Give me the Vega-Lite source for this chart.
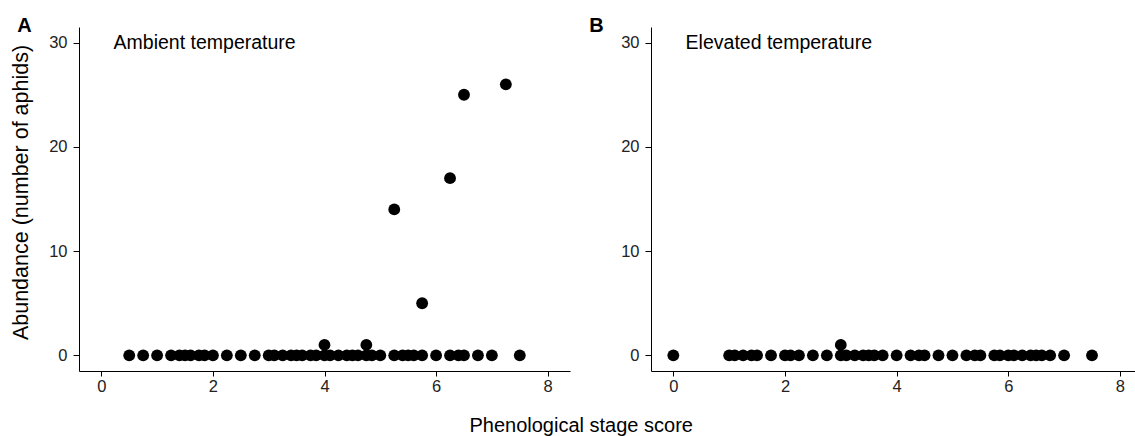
{
  "$schema": "https://vega.github.io/schema/vega-lite/v6.json",
  "background": "white",
  "padding": {"left": 10, "top": 16, "right": 0, "bottom": 0},
  "autosize": {"type": "pad"},
  "config": {
    "font": "Liberation Sans",
    "view": {"stroke": null},
    "axis": {
      "grid": false,
      "domainColor": "black",
      "domainWidth": 1,
      "tickColor": "black",
      "tickWidth": 1,
      "labelColor": "#222222",
      "labelFontSize": 16.5,
      "titleColor": "black",
      "titleFontWeight": "normal"
    },
    "axisX": {"tickSize": 5, "labelPadding": 2, "format": "d"},
    "axisY": {"tickSize": 6, "labelPadding": 6, "format": "d"}
  },
  "datasets": {
    "pts": [
      {"panel": "Ambient", "stage": 0.5, "abundance": 0},
      {"panel": "Ambient", "stage": 0.75, "abundance": 0},
      {"panel": "Ambient", "stage": 1.0, "abundance": 0},
      {"panel": "Ambient", "stage": 1.25, "abundance": 0},
      {"panel": "Ambient", "stage": 1.4, "abundance": 0},
      {"panel": "Ambient", "stage": 1.5, "abundance": 0},
      {"panel": "Ambient", "stage": 1.6, "abundance": 0},
      {"panel": "Ambient", "stage": 1.75, "abundance": 0},
      {"panel": "Ambient", "stage": 1.85, "abundance": 0},
      {"panel": "Ambient", "stage": 2.0, "abundance": 0},
      {"panel": "Ambient", "stage": 2.25, "abundance": 0},
      {"panel": "Ambient", "stage": 2.5, "abundance": 0},
      {"panel": "Ambient", "stage": 2.75, "abundance": 0},
      {"panel": "Ambient", "stage": 3.0, "abundance": 0},
      {"panel": "Ambient", "stage": 3.1, "abundance": 0},
      {"panel": "Ambient", "stage": 3.25, "abundance": 0},
      {"panel": "Ambient", "stage": 3.4, "abundance": 0},
      {"panel": "Ambient", "stage": 3.5, "abundance": 0},
      {"panel": "Ambient", "stage": 3.6, "abundance": 0},
      {"panel": "Ambient", "stage": 3.75, "abundance": 0},
      {"panel": "Ambient", "stage": 3.85, "abundance": 0},
      {"panel": "Ambient", "stage": 4.0, "abundance": 0},
      {"panel": "Ambient", "stage": 4.1, "abundance": 0},
      {"panel": "Ambient", "stage": 4.25, "abundance": 0},
      {"panel": "Ambient", "stage": 4.4, "abundance": 0},
      {"panel": "Ambient", "stage": 4.5, "abundance": 0},
      {"panel": "Ambient", "stage": 4.6, "abundance": 0},
      {"panel": "Ambient", "stage": 4.75, "abundance": 0},
      {"panel": "Ambient", "stage": 4.85, "abundance": 0},
      {"panel": "Ambient", "stage": 5.0, "abundance": 0},
      {"panel": "Ambient", "stage": 5.25, "abundance": 0},
      {"panel": "Ambient", "stage": 5.4, "abundance": 0},
      {"panel": "Ambient", "stage": 5.5, "abundance": 0},
      {"panel": "Ambient", "stage": 5.6, "abundance": 0},
      {"panel": "Ambient", "stage": 5.75, "abundance": 0},
      {"panel": "Ambient", "stage": 6.0, "abundance": 0},
      {"panel": "Ambient", "stage": 6.25, "abundance": 0},
      {"panel": "Ambient", "stage": 6.4, "abundance": 0},
      {"panel": "Ambient", "stage": 6.5, "abundance": 0},
      {"panel": "Ambient", "stage": 6.75, "abundance": 0},
      {"panel": "Ambient", "stage": 7.0, "abundance": 0},
      {"panel": "Ambient", "stage": 7.5, "abundance": 0},
      {"panel": "Ambient", "stage": 4.0, "abundance": 1},
      {"panel": "Ambient", "stage": 4.75, "abundance": 1},
      {"panel": "Ambient", "stage": 5.25, "abundance": 14},
      {"panel": "Ambient", "stage": 5.75, "abundance": 5},
      {"panel": "Ambient", "stage": 6.25, "abundance": 17},
      {"panel": "Ambient", "stage": 6.5, "abundance": 25},
      {"panel": "Ambient", "stage": 7.25, "abundance": 26},
      {"panel": "Elevated", "stage": 0.0, "abundance": 0},
      {"panel": "Elevated", "stage": 1.0, "abundance": 0},
      {"panel": "Elevated", "stage": 1.1, "abundance": 0},
      {"panel": "Elevated", "stage": 1.25, "abundance": 0},
      {"panel": "Elevated", "stage": 1.4, "abundance": 0},
      {"panel": "Elevated", "stage": 1.5, "abundance": 0},
      {"panel": "Elevated", "stage": 1.75, "abundance": 0},
      {"panel": "Elevated", "stage": 2.0, "abundance": 0},
      {"panel": "Elevated", "stage": 2.1, "abundance": 0},
      {"panel": "Elevated", "stage": 2.25, "abundance": 0},
      {"panel": "Elevated", "stage": 2.5, "abundance": 0},
      {"panel": "Elevated", "stage": 2.75, "abundance": 0},
      {"panel": "Elevated", "stage": 3.0, "abundance": 0},
      {"panel": "Elevated", "stage": 3.1, "abundance": 0},
      {"panel": "Elevated", "stage": 3.25, "abundance": 0},
      {"panel": "Elevated", "stage": 3.4, "abundance": 0},
      {"panel": "Elevated", "stage": 3.5, "abundance": 0},
      {"panel": "Elevated", "stage": 3.6, "abundance": 0},
      {"panel": "Elevated", "stage": 3.75, "abundance": 0},
      {"panel": "Elevated", "stage": 4.0, "abundance": 0},
      {"panel": "Elevated", "stage": 4.25, "abundance": 0},
      {"panel": "Elevated", "stage": 4.4, "abundance": 0},
      {"panel": "Elevated", "stage": 4.5, "abundance": 0},
      {"panel": "Elevated", "stage": 4.75, "abundance": 0},
      {"panel": "Elevated", "stage": 5.0, "abundance": 0},
      {"panel": "Elevated", "stage": 5.25, "abundance": 0},
      {"panel": "Elevated", "stage": 5.4, "abundance": 0},
      {"panel": "Elevated", "stage": 5.5, "abundance": 0},
      {"panel": "Elevated", "stage": 5.75, "abundance": 0},
      {"panel": "Elevated", "stage": 5.85, "abundance": 0},
      {"panel": "Elevated", "stage": 6.0, "abundance": 0},
      {"panel": "Elevated", "stage": 6.1, "abundance": 0},
      {"panel": "Elevated", "stage": 6.25, "abundance": 0},
      {"panel": "Elevated", "stage": 6.4, "abundance": 0},
      {"panel": "Elevated", "stage": 6.5, "abundance": 0},
      {"panel": "Elevated", "stage": 6.6, "abundance": 0},
      {"panel": "Elevated", "stage": 6.75, "abundance": 0},
      {"panel": "Elevated", "stage": 7.0, "abundance": 0},
      {"panel": "Elevated", "stage": 7.5, "abundance": 0},
      {"panel": "Elevated", "stage": 3.0, "abundance": 1}
    ]
  },
  "bounds": "flush",
  "spacing": 81,
  "hconcat": [
    {
      "width": 491,
      "height": 344,
      "title": {"text": "A", "anchor": "start", "frame": "group", "offset": 0, "baseline": "alphabetic", "dx": -61.7, "dy": 25.4, "fontSize": 20, "fontWeight": "bold", "font": "Liberation Sans", "color": "black"},
      "layer": [
        {
          "data": {"name": "pts"},
          "transform": [{"filter": "datum.panel === 'Ambient'"}],
          "mark": {"type": "circle", "size": 140, "color": "black", "opacity": 1},
          "encoding": {
            "x": {"field": "stage", "type": "quantitative", "scale": {"domain": [-0.4, 8.4], "nice": false, "zero": false},
              "axis": {"values": [0, 2, 4, 6, 8], "title": "Phenological stage score", "titleX": 501.7, "titleY": 60.6, "titleBaseline": "alphabetic", "titleAlign": "center", "titleFontSize": 20}},
            "y": {"field": "abundance", "type": "quantitative", "scale": {"domain": [-1.5, 31.5], "nice": false, "zero": false},
              "axis": {"values": [0, 10, 20, 30], "title": "Abundance (number of aphids)", "titleX": -51.1, "titleY": 165, "titleBaseline": "alphabetic", "titleAlign": "center", "titleAngle": 270, "titleFontSize": 21.5}}
          }
        },
        {
          "data": {"values": [{"label": "Ambient temperature"}]},
          "mark": {"type": "text", "align": "left", "baseline": "alphabetic", "fontSize": 19.5, "color": "black"},
          "encoding": {
            "x": {"datum": 0.22},
            "y": {"datum": 29.4},
            "text": {"field": "label"}
          }
        }
      ]
    },
    {
      "width": 484,
      "height": 344,
      "title": {"text": "B", "anchor": "start", "frame": "group", "offset": 0, "baseline": "alphabetic", "dx": -61.7, "dy": 25.4, "fontSize": 20, "fontWeight": "bold", "font": "Liberation Sans", "color": "black"},
      "layer": [
        {
          "data": {"name": "pts"},
          "transform": [{"filter": "datum.panel === 'Elevated'"}],
          "mark": {"type": "circle", "size": 140, "color": "black", "opacity": 1},
          "encoding": {
            "x": {"field": "stage", "type": "quantitative", "scale": {"domain": [-0.4, 8.27], "nice": false, "zero": false},
              "axis": {"values": [0, 2, 4, 6, 8], "title": null}},
            "y": {"field": "abundance", "type": "quantitative", "scale": {"domain": [-1.5, 31.5], "nice": false, "zero": false},
              "axis": {"values": [0, 10, 20, 30], "title": null}}
          }
        },
        {
          "data": {"values": [{"label": "Elevated temperature"}]},
          "mark": {"type": "text", "align": "left", "baseline": "alphabetic", "fontSize": 19.5, "color": "black"},
          "encoding": {
            "x": {"datum": 0.22},
            "y": {"datum": 29.4},
            "text": {"field": "label"}
          }
        }
      ]
    }
  ]
}
